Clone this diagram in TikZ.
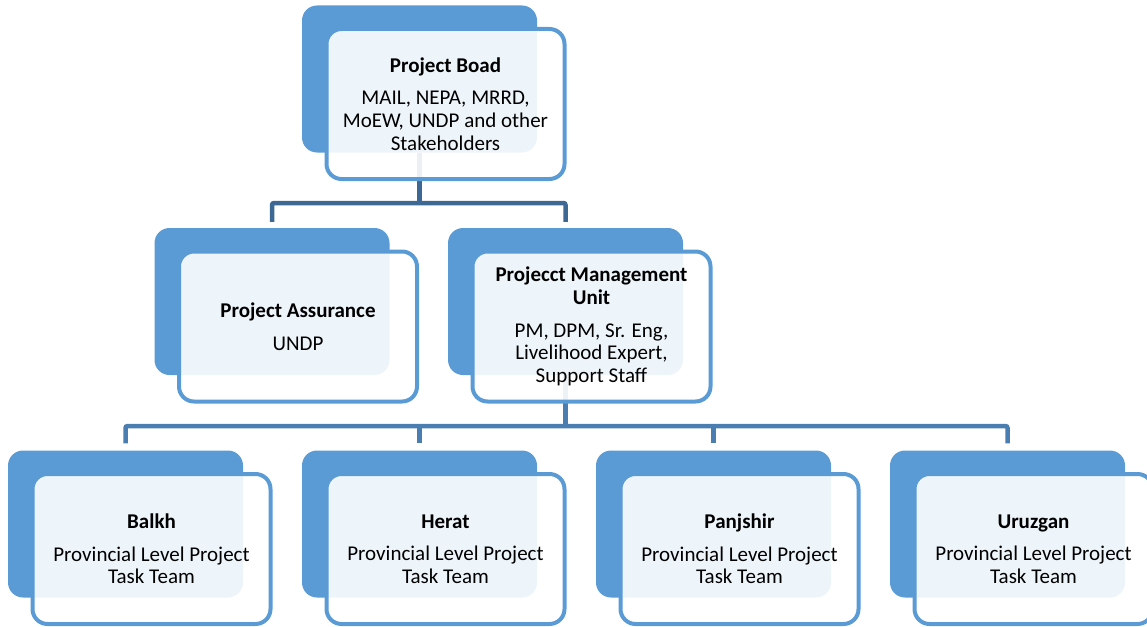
\documentclass[tikz,border=0pt]{standalone}
\usepackage{fontspec}
\setmainfont{Carlito}
\usetikzlibrary{backgrounds}
\definecolor{boxblue}{RGB}{91,155,213}
\definecolor{linkdark}{RGB}{62,104,148}
\definecolor{linkblue}{RGB}{74,126,177}

\begin{document}
\begin{tikzpicture}[x=1pt, y=-1pt,
  back/.style={rectangle, rounded corners=15pt, fill=boxblue, minimum width=235pt, minimum height=147pt, inner sep=0pt},
  front/.style={rectangle, rounded corners=15pt, draw=boxblue, line width=4pt, fill=white, fill opacity=0.9, text opacity=1, minimum width=238pt, minimum height=150pt, inner sep=0pt, align=center, font=\fontsize{21}{22.6}\selectfont},
  link/.style={line width=4.5pt, rounded corners=2pt}]
\useasboundingbox (0,0) rectangle (1147,626);

% board
\node[back] (pbb) at (419.5,79) {};
\node[front] (pb) at (445.5,104) {\textbf{Project Boad}\\[10pt] MAIL, NEPA, MRRD,\\ MoEW, UNDP and other\\ Stakeholders};

% second row
\node[back] (pab) at (272,301.5) {};
\node[front] (pa) at (298,326.5) {\textbf{Project Assurance}\\[10pt] UNDP};
\node[back] (pmub) at (565.5,301.5) {};
\node[front] (pmu) at (591.5,326.5) {\textbf{Projecct Management}\\ \textbf{Unit}\\[10pt] PM, DPM, Sr. Eng,\\ Livelihood Expert,\\ Support Staff};

% provincial teams
\node[back] (balkhb) at (125.5,524) {};
\node[front] (balkh) at (151.5,549) {\textbf{Balkh}\\[10pt] Provincial Level Project\\ Task Team};
\node[back] (heratb) at (419.5,524) {};
\node[front] (herat) at (445.5,549) {\textbf{Herat}\\[10pt] Provincial Level Project\\ Task Team};
\node[back] (panjb) at (713.5,524) {};
\node[front] (panj) at (739.5,549) {\textbf{Panjshir}\\[10pt] Provincial Level Project\\ Task Team};
\node[back] (uruzb) at (1007.5,524) {};
\node[front] (uruz) at (1033.5,549) {\textbf{Uruzgan}\\[10pt] Provincial Level Project\\ Task Team};

% links behind the boxes
\coordinate (j1) at (419.5,203);
\coordinate (j2) at (565.5,426);
\begin{scope}[on background layer]
  \draw[link, draw=linkdark] (pbb.south) -- (j1);
  \draw[link, draw=linkdark] ([yshift=6pt]pab.north) |- (j1) -| ([yshift=6pt]pmub.north);
  \draw[link, draw=linkblue] (pmub.south) -- (j2);
  \draw[link, draw=linkblue] ([yshift=7pt]balkhb.north) |- (j2) -| ([yshift=7pt]uruzb.north);
  \draw[link, draw=linkblue] ([yshift=7pt]heratb.north) -- (heratb.north |- j2);
  \draw[link, draw=linkblue] ([yshift=7pt]panjb.north) -- (panjb.north |- j2);
\end{scope}
\end{tikzpicture}
\end{document}
